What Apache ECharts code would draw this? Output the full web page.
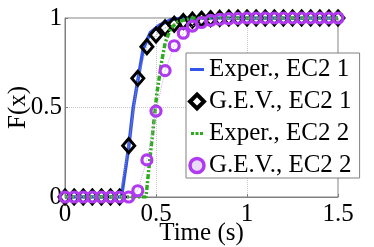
<!DOCTYPE html>
<html>
<head>
<meta charset="utf-8">
<script src="https://cdn.jsdelivr.net/npm/echarts@6/dist/echarts.min.js"></script>
<style>html,body{margin:0;padding:0;background:#fff;}#c{width:374px;height:247px;}</style>
</head>
<body>
<div id="c"></div>
<script>
// Sample times for the G.E.V. markers (s)
var gevTimes = [0,0.05,0.1,0.15,0.2,0.25,0.3,0.35,0.4,0.45,0.5,0.55,0.6,0.65,0.7,0.75,0.8,0.85,0.9,0.95,1,1.05,1.1,1.15,1.2,1.25,1.3,1.35,1.4,1.45,1.5];
var gevEC2_1 = [0,0,0,0,0,0,0,0.287,0.663,0.84,0.905,0.945,0.965,0.98,0.988,0.993,0.996,0.998,1,1,1,1,1,1,1,1,1,1,1,1,1];
var gevEC2_2 = [0,0,0,0,0,0,0,0,0.035,0.207,0.48,0.706,0.845,0.915,0.955,0.975,0.987,0.993,0.996,0.998,1,1,1,1,1,1,1,1,1,1,1];
// Experimental CDFs
var exper1T = [0,0.31,0.32,0.35,0.375,0.40,0.43,0.47,0.52,0.58,0.65,1.5];
var exper1F = [0,0,0.07,0.28,0.5,0.65,0.83,0.92,0.96,0.99,1,1];
var exper2T = [0,0.445,0.46,0.485,0.505,0.53,0.55,0.58,0.62,0.7,1.5];
var exper2F = [0,0,0.15,0.39,0.58,0.75,0.86,0.94,0.98,1,1];
var xTicks = ['0','0.5','1','1.5'];
var yTicks = ['0','0.5','1'];
var names = ['Exper., EC2 1','G.E.V., EC2 1','Exper., EC2 2','G.E.V., EC2 2'];

function zip(a,b){return a.map(function(v,i){return [v,b[i]];});}
var FONT = 'Liberation Serif';
var violet = '#b03af0';
var blue = '#3355e8', green = '#2eaa1e';

var lineIcon = 'path://M0,0h0.01v0.01h-0.01z M0,5.5h14v3H0z M13.99,13.99h0.01v0.01h-0.01z';
var dashIcon = 'path://M0,0h0.01v0.01h-0.01z M1,5.5h3v3h-3z M5.5,5.5h3v3h-3z M10,5.5h3v3h-3z M13.99,13.99h0.01v0.01h-0.01z';

var chart = echarts.init(document.getElementById('c'));
chart.setOption({
  animation:false,
  textStyle:{fontFamily:FONT},
  grid:{left:65,right:36,top:18,bottom:50,show:true,borderColor:'#808080',borderWidth:1,
    containLabel:false,outerBoundsMode:'none'},
  xAxis:{type:'value',min:0,max:1.5,interval:0.5,
    name:'Time (s)',nameLocation:'middle',nameGap:24,nameMoveOverlap:false,
    nameTextStyle:{fontFamily:FONT,fontSize:25,color:'#000'},
    axisLine:{lineStyle:{color:'#808080'}},
    axisTick:{inside:true,length:3,lineStyle:{color:'#808080'}},
    axisLabel:{margin:5,fontFamily:FONT,fontSize:25,color:'#000',
      formatter:function(v){var i=Math.round(v/0.5);return xTicks[i];}},
    splitLine:{lineStyle:{type:'dotted',color:'#c8c8c8'}}},
  yAxis:{type:'value',min:0,max:1,interval:0.5,
    name:'F(x)',nameLocation:'middle',nameGap:34,nameRotate:90,nameMoveOverlap:false,
    nameTextStyle:{fontFamily:FONT,fontSize:25,color:'#000'},
    axisLine:{show:true,lineStyle:{color:'#808080'}},
    axisTick:{show:true,inside:true,length:3,lineStyle:{color:'#808080'}},
    axisLabel:{margin:3,fontFamily:FONT,fontSize:25,color:'#000',
      formatter:function(v){var i=Math.round(v/0.5);return yTicks[i];}},
    splitLine:{lineStyle:{type:'dotted',color:'#c8c8c8'}}},
  legend:{orient:'vertical',left:186,top:53,padding:[4,8,0,2],itemGap:7,
    itemWidth:14,itemHeight:14,
    backgroundColor:'#fff',borderColor:'#808080',borderWidth:1,
    textStyle:{fontFamily:FONT,fontSize:25,color:'#000',lineHeight:25},
    data:[
      {name:names[0],icon:lineIcon,itemStyle:{color:blue,borderWidth:0}},
      {name:names[1],icon:'diamond',itemStyle:{color:'#fff',borderColor:'#000',borderWidth:4}},
      {name:names[2],icon:dashIcon,itemStyle:{color:green,borderWidth:0}},
      {name:names[3],icon:'circle',itemStyle:{color:'#eadcf8',borderColor:violet,borderWidth:3.5}}
    ]},
  series:[
    {name:names[0],type:'line',data:zip(exper1T,exper1F),symbol:'none',
      lineStyle:{color:blue,width:3.5},itemStyle:{color:blue},z:2},
    {name:names[1],type:'line',data:zip(gevTimes,gevEC2_1),symbol:'diamond',symbolSize:[12,14],
      showAllSymbol:true,
      lineStyle:{color:'#9a9a9a',width:1,type:'dotted'},
      itemStyle:{color:'transparent',borderColor:'#000',borderWidth:3},z:3},
    {name:names[2],type:'line',data:zip(exper2T,exper2F),symbol:'none',
      lineStyle:{color:green,width:3.5,type:[5,2,2,2]},itemStyle:{color:green},z:4},
    {name:names[3],type:'line',data:zip(gevTimes,gevEC2_2),symbol:'circle',symbolSize:10,
      showAllSymbol:true,
      lineStyle:{color:'#dba6f7',width:1,type:'dotted'},
      itemStyle:{color:'transparent',borderColor:violet,borderWidth:3.2},z:5}
  ]
});
</script>
</body>
</html>
